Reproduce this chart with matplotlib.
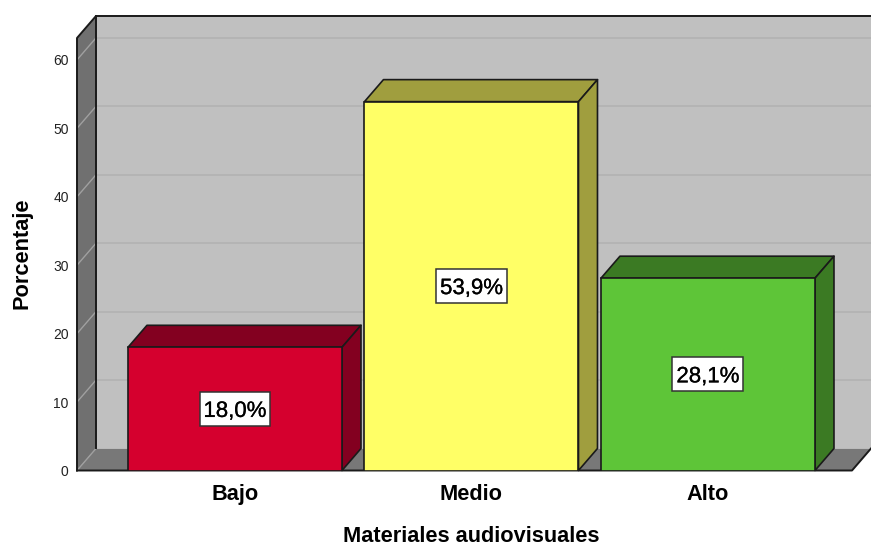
import matplotlib
matplotlib.use('Agg')
import matplotlib.pyplot as plt
import matplotlib.patheffects as pe
from matplotlib.patches import Polygon, Rectangle

plt.rcParams['font.family'] = ['Liberation Sans', 'DejaVu Sans']

categories = ['Bajo', 'Medio', 'Alto']
percentages = [18.0, 53.9, 28.1]
value_labels = ['18,0%', '53,9%', '28,1%']
y_ticks = [0, 10, 20, 30, 40, 50, 60]

front_colors = ['#D5002E', '#FFFF66', '#5EC538']
top_colors = ['#830020', '#A09E3E', '#3B7A23']

fig = plt.figure(figsize=(8.71, 5.46), dpi=100)
# axes box is the front plane of the 3d chart
ax = fig.add_axes([77 / 871, 1 - 470.5 / 546, 775 / 871, 432.5 / 546])
x_min, x_max = -0.668, 2.609
y_max = 63.2
ax.set_xlim(x_min, x_max)
ax.set_ylim(0, y_max)
ax.patch.set_visible(False)
for s in ax.spines.values():
    s.set_visible(False)

# depth of the 3d effect in data units (19 px right, 22 px up)
dx = 0.0803
dy = 3.216
edge = '#1a1a1a'


def poly(pts, color, z, lw=1.2, ec=edge):
    ax.add_patch(Polygon(pts, closed=True, facecolor=color, edgecolor=ec,
                         linewidth=lw, zorder=z, clip_on=False, joinstyle='round'))


# walls and floor
poly([(x_min + dx, dy), (x_max + dx, dy), (x_max + dx, y_max + dy), (x_min + dx, y_max + dy)],
     '#C0C0C0', 1, ec='none')
poly([(x_min, 0), (x_min + dx, dy), (x_min + dx, y_max + dy), (x_min, y_max)], '#707070', 2, ec='none')
poly([(x_min, 0), (x_max, 0), (x_max + dx, dy), (x_min + dx, dy)], '#787878', 2, ec='none')

# gridlines on back and left walls
for t in y_ticks[1:]:
    ax.plot([x_min + dx, x_max + dx], [t + dy, t + dy], color='#B3B3B3', lw=1.3, zorder=3, clip_on=False)
    ax.plot([x_min, x_min + dx], [t, t + dy], color='#A0A0A0', lw=1, zorder=3, clip_on=False)
ax.plot([x_min, x_min + dx], [0, dy], color='#A0A0A0', lw=1, zorder=3, clip_on=False)

# frame lines
ax.plot([x_min, x_min, x_min + dx, x_max + dx], [0, y_max, y_max + dy, y_max + dy],
        color=edge, lw=1.4, zorder=4, clip_on=False)
ax.plot([x_min + dx, x_min + dx], [dy, y_max + dy], color=edge, lw=1.4, zorder=4, clip_on=False)
ax.plot([x_min, x_max, x_max + dx], [0, 0, dy], color=edge, lw=1.4, zorder=4, clip_on=False)

# bars
width = 0.905
box_w = 0.30
box_h = 5.0
for i, val in enumerate(percentages):
    left = i - width / 2
    right = i + width / 2
    poly([(left, val), (right, val), (right + dx, val + dy), (left + dx, val + dy)], top_colors[i], 5)
    poly([(right, 0), (right + dx, dy), (right + dx, val + dy), (right, val)], top_colors[i], 5)
    ax.bar(i, val, width=width, color=front_colors[i], edgecolor=edge, linewidth=1.2, zorder=6)
    ax.add_patch(Rectangle((i - box_w / 2, val / 2 - box_h / 2), box_w, box_h, facecolor='white',
                           edgecolor='#333333', linewidth=1.1, zorder=7))
    ax.text(i, val / 2, value_labels[i], ha='center', va='center_baseline', fontsize=16, zorder=8, color='black',
            path_effects=[pe.withStroke(linewidth=0.2, foreground='black')])

ax.set_xticks(range(len(categories)))
ax.set_xticklabels(categories, fontsize=15.7, fontweight='bold')
ax.set_yticks(y_ticks)
ax.tick_params(axis='x', length=0, pad=10)
ax.tick_params(axis='y', length=0, pad=6, labelsize=10, labelcolor='#222222')
ax.set_xlabel('Materiales audiovisuales', fontsize=15.7, fontweight='bold', labelpad=14)
ax.xaxis.set_label_coords((471.5 - 77) / 775, -(536 - 470.5) / 432.5)
ax.xaxis.label.set_va('center')
ax.set_ylabel('Porcentaje', fontsize=15.7, fontweight='bold')
ax.yaxis.set_label_coords((22 - 77) / 775, (470.5 - 253) / 432.5)
ax.yaxis.label.set_va('center')

plt.savefig('out.png', dpi=100)
